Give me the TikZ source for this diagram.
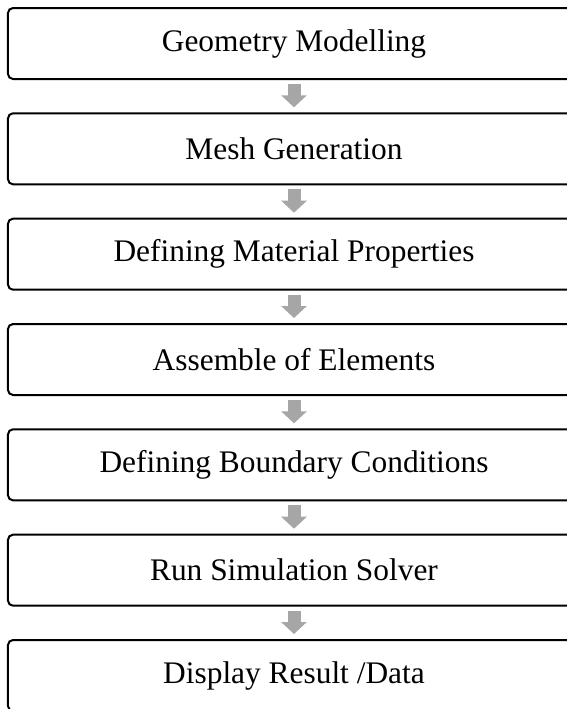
\documentclass[tikz,border=0pt]{standalone}
\usepackage{fontspec}
\setmainfont{Liberation Serif}
\usetikzlibrary{arrows.meta}
\definecolor{arrowgray}{RGB}{166,166,166}
\begin{document}
\begin{tikzpicture}[stage node/.style={rectangle,rounded corners=2.5pt,draw,line width=1pt,minimum width=286pt,minimum height=35.5pt,inner sep=0pt,font=\fontsize{15.7}{18}\selectfont},flow arrow/.style={draw=arrowgray,line width=6.5pt,-{Triangle[width=12.5pt,length=6pt]},shorten <=2pt,shorten >=2.5pt}]
\useasboundingbox (0,0) rectangle (283.5pt,-354.5pt);
\node[stage node] (s1) at (147pt,-21.75pt) {Geometry Modelling};
\node[stage node] (s2) at (147pt,-74.4pt) {Mesh Generation};
\node[stage node] (s3) at (147pt,-127.1pt) {Defining Material Properties};
\node[stage node] (s4) at (147pt,-179.75pt) {Assemble of Elements};
\node[stage node] (s5) at (147pt,-232.4pt) {Defining Boundary Conditions};
\node[stage node] (s6) at (147pt,-285.1pt) {Run Simulation Solver};
\node[stage node] (s7) at (147pt,-337.75pt) {Display Result /Data};
\draw[flow arrow] (s1) -- (s2);
\draw[flow arrow] (s2) -- (s3);
\draw[flow arrow] (s3) -- (s4);
\draw[flow arrow] (s4) -- (s5);
\draw[flow arrow] (s5) -- (s6);
\draw[flow arrow] (s6) -- (s7);
\end{tikzpicture}
\end{document}
